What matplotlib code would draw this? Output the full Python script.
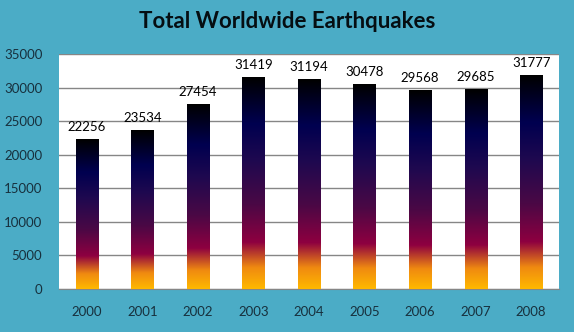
import numpy as np
import matplotlib
matplotlib.use('Agg')
import matplotlib.pyplot as plt
from matplotlib.colors import LinearSegmentedColormap

years = ['2000', '2001', '2002', '2003', '2004', '2005', '2006', '2007', '2008']
quakes = [22256, 23534, 27454, 31419, 31194, 30478, 29568, 29685, 31777]

bg = '#4BACC6'
text_col = '#17303D'

# bottom -> top gradient like the Excel fill
grad = LinearSegmentedColormap.from_list('quake', [
    (0.00, '#FFB800'),
    (0.10, '#F08A10'),
    (0.22, '#8E0040'),
    (0.40, '#4A0845'),
    (0.60, '#20094F'),
    (0.78, '#000050'),
    (1.00, '#000000'),
])

fig = plt.figure(figsize=(5.74, 3.32), dpi=100, facecolor=bg)
ax = fig.add_axes([0.1028, 0.1295, 0.871, 0.708])
ax.set_facecolor('white')

x = np.arange(len(years))
bars = ax.bar(x, quakes, width=0.4, color='none', zorder=3)

ramp = np.linspace(0, 1, 256).reshape(-1, 1)
for b in bars:
    x0 = b.get_x()
    ax.imshow(ramp, cmap=grad, origin='lower', aspect='auto', zorder=3,
              extent=[x0, x0 + b.get_width(), 0, b.get_height()])

for xi, v in zip(x, quakes):
    ax.text(xi, v + 1000, str(v), ha='center', va='bottom', fontsize=9.5,
            family='Lato', color='black', zorder=4)

ax.set_xlim(-0.5, len(years) - 0.5)
ax.set_ylim(0, 35000)
ax.set_yticks(range(0, 35001, 5000))
ax.set_xticks(x)
ax.set_xticklabels(years)
ax.tick_params(length=0, labelsize=9.5, colors=text_col, pad=12)
for lab in ax.get_xticklabels() + ax.get_yticklabels():
    lab.set_family('Lato')
ax.yaxis.grid(True, color='#868686', linewidth=1, zorder=1)
for s in ['top', 'right', 'left']:
    ax.spines[s].set_visible(False)
ax.spines['bottom'].set_color('#868686')

fig.text(0.5, 0.935, 'Total Worldwide Earthquakes', ha='center', va='center',
         fontsize=16, fontweight='bold', family='Lato', color='#050E12')

plt.savefig('out.png', dpi=100, facecolor=bg)
